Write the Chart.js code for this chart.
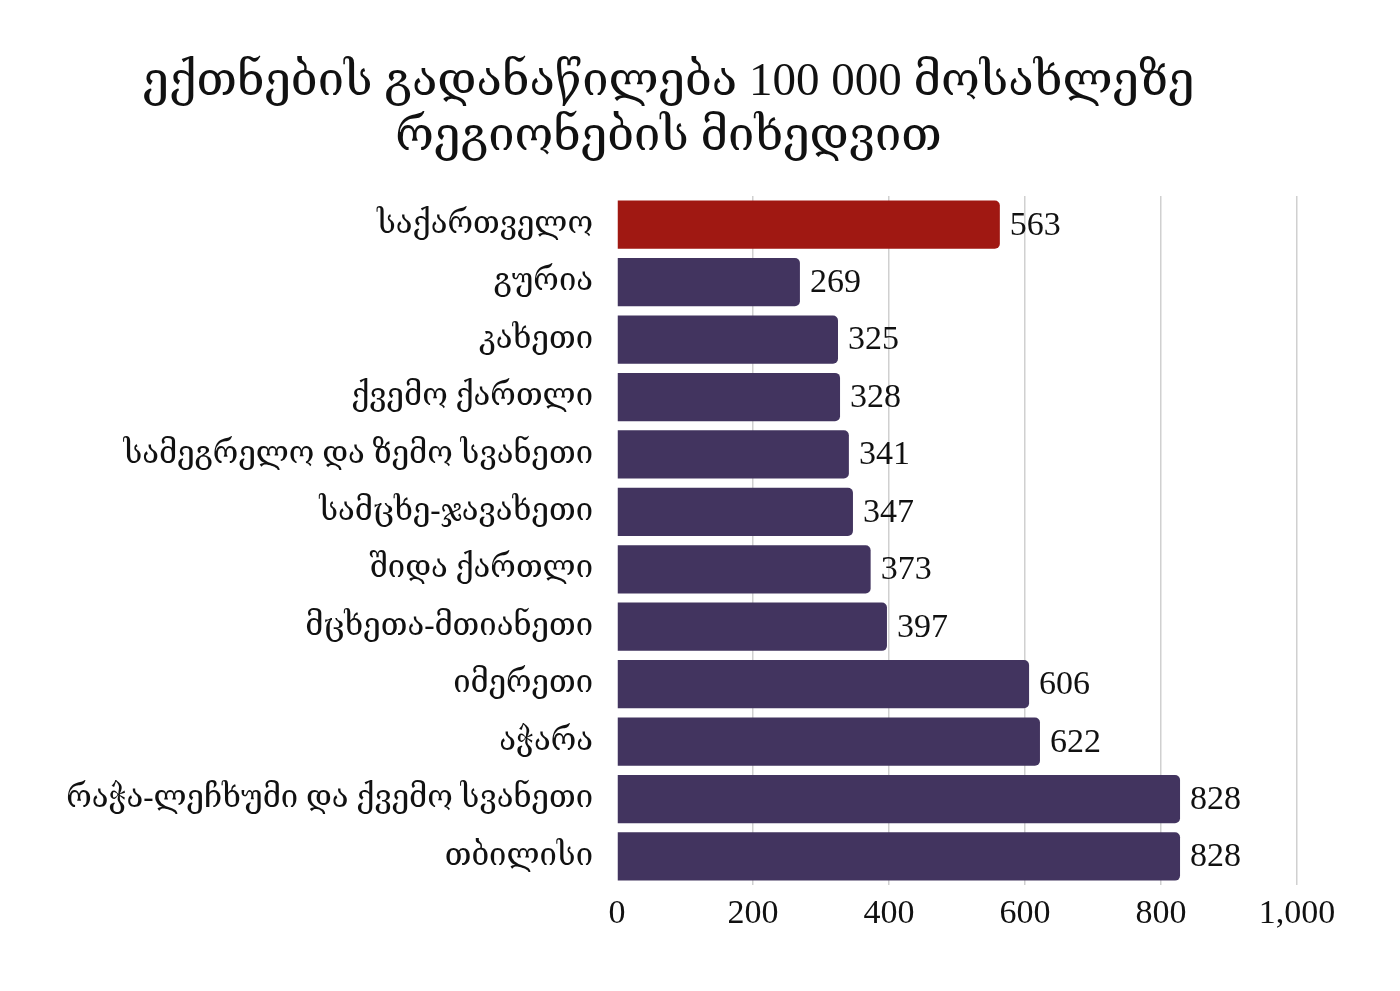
<!DOCTYPE html>
<html>
<head>
<meta charset="utf-8">
<script src="https://cdn.jsdelivr.net/npm/chart.js@4.4.0/dist/chart.umd.min.js"></script>
<style>
  html, body { margin: 0; padding: 0; background: #fff; overflow: hidden; }
</style>
</head>
<body>
<canvas id="nursesChart" width="1400" height="991"></canvas>
<script>
const regions = ['საქართველო', 'გურია', 'კახეთი', 'ქვემო ქართლი', 'სამეგრელო და ზემო სვანეთი', 'სამცხე-ჯავახეთი', 'შიდა ქართლი', 'მცხეთა-მთიანეთი', 'იმერეთი', 'აჭარა', 'რაჭა-ლეჩხუმი და ქვემო სვანეთი', 'თბილისი'];
const nursesPer100k = [563, 269, 325, 328, 341, 347, 373, 397, 606, 622, 828, 828];
const barColors = ['#a01812', '#42345f', '#42345f', '#42345f', '#42345f', '#42345f', '#42345f', '#42345f', '#42345f', '#42345f', '#42345f', '#42345f'];
const titleLines = ['ექთნების გადანაწილება 100 000 მოსახლეზე', 'რეგიონების მიხედვით'];

const serif = '"Liberation Serif", "DejaVu Serif", serif';

// draws the numbers at the end of each bar
const valueLabels = {
    id: 'valueLabels',
    afterDatasetsDraw(chart) {
        const ctx = chart.ctx;
        const meta = chart.getDatasetMeta(0);
        ctx.save();
        ctx.font = '34px ' + serif;
        ctx.fillStyle = '#111';
        ctx.textAlign = 'left';
        ctx.textBaseline = 'middle';
        meta.data.forEach(function(bar, i) {
            ctx.fillText(String(nursesPer100k[i]), bar.x + 10, bar.y + 1);
        });
        ctx.restore();
    }
};

const ctx = document.getElementById('nursesChart').getContext('2d');
new Chart(ctx, {
    type: 'bar',
    data: {
        labels: regions,
        datasets: [{
            data: nursesPer100k,
            backgroundColor: barColors,
            borderRadius: { topRight: 5, bottomRight: 5 },
            borderSkipped: false,
            barPercentage: 0.84,
            categoryPercentage: 1.0
        }]
    },
    options: {
        indexAxis: 'y',
        responsive: false,
        animation: false,
        devicePixelRatio: 1,
        layout: { padding: { top: 24, right: 103, bottom: 49, left: 40 } },
        plugins: {
            legend: { display: false },
            tooltip: { enabled: false },
            title: {
                display: true,
                text: titleLines,
                color: '#111',
                font: { family: serif, size: 47, weight: 'normal', lineHeight: 1.17 },
                padding: { top: 31, bottom: 31 }
            }
        },
        scales: {
            x: {
                min: 0,
                max: 1000,
                ticks: {
                    stepSize: 200,
                    color: '#111',
                    font: { family: serif, size: 34 },
                    padding: 8
                },
                grid: {
                    color: function(c) { return c.tick && c.tick.value === 0 ? 'rgba(0,0,0,0)' : '#d0d0d0'; },
                    lineWidth: 1.5,
                    drawTicks: false
                },
                border: { display: false }
            },
            y: {
                afterFit: function(scale) { scale.width = 577; },
                ticks: {
                    color: '#111',
                    font: { family: serif, size: 31 },
                    padding: 16
                },
                grid: { display: false },
                border: { display: false }
            }
        }
    },
    plugins: [valueLabels]
});
</script>
</body>
</html>
